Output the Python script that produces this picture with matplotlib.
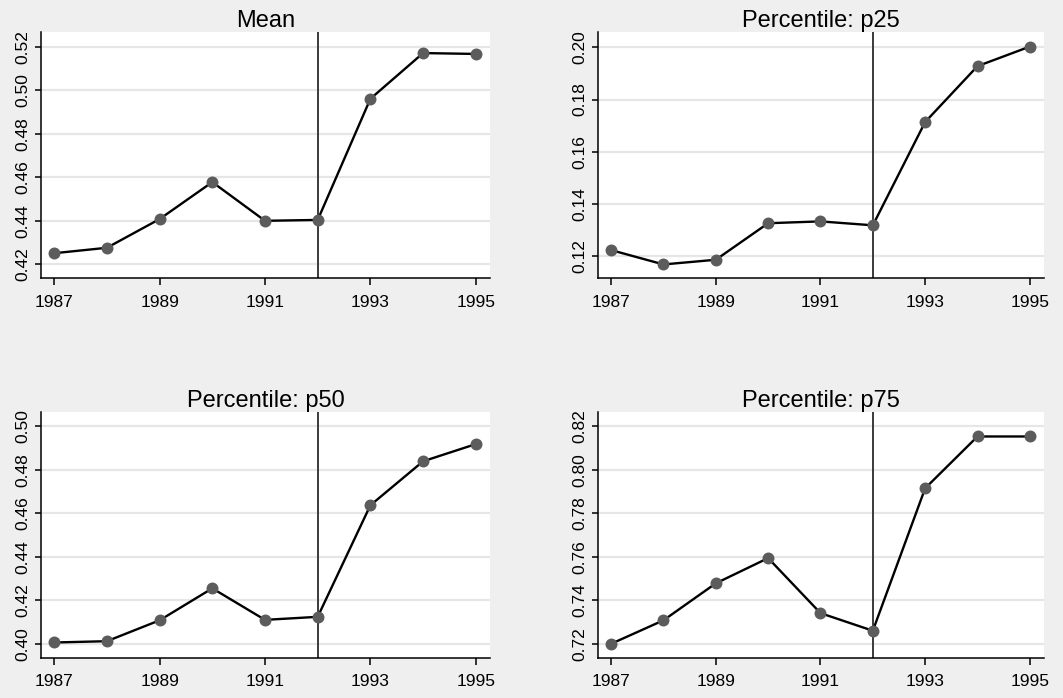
import numpy as np
import matplotlib
matplotlib.use("Agg")
import matplotlib.pyplot as plt

plt.rcParams['font.family'] = ['Liberation Sans', 'DejaVu Sans']

years = [1987, 1988, 1989, 1990, 1991, 1992, 1993, 1994, 1995]

mean_vals = [0.4251, 0.4276, 0.4408, 0.4578, 0.4400, 0.4404, 0.4961, 0.5171, 0.5167]
p25_vals = [0.1223, 0.1168, 0.1186, 0.1326, 0.1333, 0.1318, 0.1714, 0.1928, 0.2003]
p50_vals = [0.4006, 0.4012, 0.4108, 0.4255, 0.4110, 0.4124, 0.4637, 0.4839, 0.4918]
p75_vals = [0.7200, 0.7308, 0.7478, 0.7594, 0.7341, 0.7260, 0.7915, 0.8153, 0.8153]

titles = ["Mean", "Percentile: p25", "Percentile: p50", "Percentile: p75"]
series = [mean_vals, p25_vals, p50_vals, p75_vals]
yticks = [
    [0.42, 0.44, 0.46, 0.48, 0.50, 0.52],
    [0.12, 0.14, 0.16, 0.18, 0.20],
    [0.40, 0.42, 0.44, 0.46, 0.48, 0.50],
    [0.72, 0.74, 0.76, 0.78, 0.80, 0.82],
]
ylims = [(0.4137, 0.5268), (0.1116, 0.2059), (0.3936, 0.5067), (0.7136, 0.8267)]
xticks = [1987, 1989, 1991, 1993, 1995]
cutoff = 1992

bg = '#EFEFEF'
fig = plt.figure(figsize=(10.63, 6.98), dpi=100, facecolor=bg)

# axes boxes (left, bottom, width, height)
boxes = [
    [0.0386, 0.6017, 0.4224, 0.3525],
    [0.5626, 0.6017, 0.4195, 0.3525],
    [0.0386, 0.0577, 0.4224, 0.3525],
    [0.5626, 0.0577, 0.4195, 0.3525],
]

for i in range(4):
    ax = fig.add_axes(boxes[i])
    ax.set_facecolor('white')
    for s in ['top', 'right']:
        ax.spines[s].set_visible(False)
    for s in ['left', 'bottom']:
        ax.spines[s].set_linewidth(1.1)
        ax.spines[s].set_color('black')
    ax.set_yticks(yticks[i])
    ax.set_yticklabels(['%.2f' % v for v in yticks[i]], rotation=90, va='center')
    ax.set_xticks(xticks)
    ax.set_xticklabels([str(x) for x in xticks])
    ax.tick_params(axis='x', direction='out', length=5, width=1.1,
                   labelsize=12.5, colors='black', pad=7)
    ax.tick_params(axis='y', direction='out', length=4.5, width=1.1,
                   labelsize=12.5, colors='black', pad=3.5)
    ax.grid(axis='y', color='#E6E6E6', linewidth=1.6)
    ax.set_axisbelow(True)
    ax.set_xlim(1986.75, 1995.27)
    ax.set_ylim(*ylims[i])
    ax.axvline(cutoff, color='#3A3A3A', linewidth=1.4, zorder=2)
    ax.plot(years, series[i], color='black', linewidth=1.7, zorder=3)
    ax.plot(years, series[i], 'o', color='#5C5C5C', markersize=8.6,
            markeredgewidth=0, zorder=4)
    ax.set_title(titles[i], fontsize=17, pad=3)

fig.savefig('out.png', dpi=100, facecolor=bg)
